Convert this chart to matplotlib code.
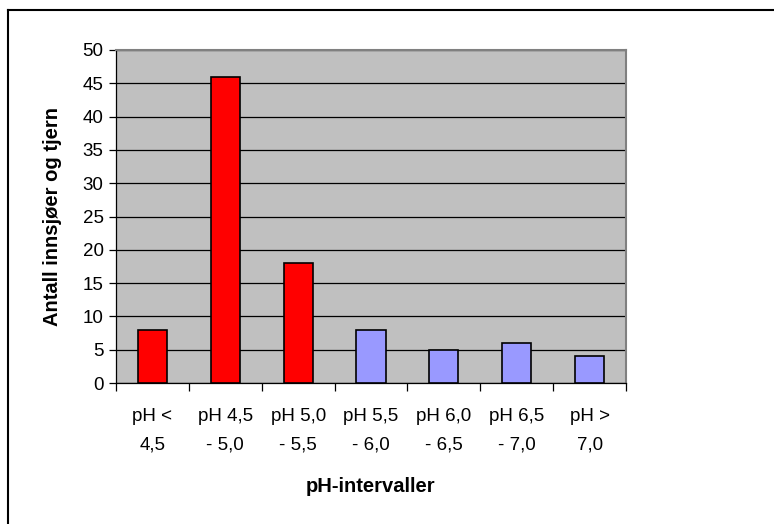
import matplotlib
matplotlib.use("Agg")
import matplotlib.pyplot as plt
from matplotlib.lines import Line2D
import numpy as np

plt.rcParams['font.family'] = ['Liberation Sans', 'DejaVu Sans']

categories = ["pH <\n4,5", "pH 4,5\n- 5,0", "pH 5,0\n- 5,5", "pH 5,5\n- 6,0",
              "pH 6,0\n- 6,5", "pH 6,5\n- 7,0", "pH >\n7,0"]
values = [8, 46, 18, 8, 5, 6, 4]
colors = ["#FF0000", "#FF0000", "#FF0000", "#9999FF", "#9999FF", "#9999FF", "#9999FF"]
yticks = [0, 5, 10, 15, 20, 25, 30, 35, 40, 45, 50]

W, H = 774, 524
fig = plt.figure(figsize=(W / 100, H / 100), dpi=100)
ax = fig.add_axes([116 / W, 1 - 383 / H, (626 - 116) / W, (383 - 50) / H])
ax.set_facecolor("#C0C0C0")

x = np.arange(len(categories))
ax.bar(x, values, width=0.4, color=colors, edgecolor="black", linewidth=1.2, zorder=3)

ax.set_xlim(-0.5, len(categories) - 0.5)
ax.set_ylim(0, 50)
ax.set_yticks(yticks)
ax.set_yticklabels([str(v) for v in yticks], fontsize=13.5)
ax.yaxis.grid(True, color="black", linewidth=0.9, zorder=1)
ax.set_axisbelow(True)

ax.set_xticks(np.arange(-0.5, len(categories), 1.0))
ax.set_xticklabels([])
ax.set_xticks(x, minor=True)
ax.set_xticklabels(categories, minor=True, fontsize=13.5, linespacing=1.9)
ax.tick_params(axis="x", which="minor", length=0, pad=18)
ax.tick_params(axis="x", which="major", length=6, width=0.9, direction="out")
ax.tick_params(axis="y", length=5, width=0.9, direction="out", pad=4)

for s in ["top", "right"]:
    ax.spines[s].set_color("#808080")
    ax.spines[s].set_linewidth(1.5)
for s in ["left", "bottom"]:
    ax.spines[s].set_color("black")
    ax.spines[s].set_linewidth(0.9)

ax.set_ylabel("Antall innsjøer og tjern", fontsize=14.5, fontweight="bold", labelpad=15)
ax.set_xlabel("pH-intervaller", fontsize=14.5, fontweight="bold", labelpad=17)

# outer frame (top and left visible)
fig.add_artist(Line2D([8 / W, 8 / W], [0, 1 - 10 / H], transform=fig.transFigure,
                      color="black", linewidth=1.5))
fig.add_artist(Line2D([8 / W, 1], [1 - 10 / H, 1 - 10 / H], transform=fig.transFigure,
                      color="black", linewidth=1.5))

fig.savefig("out.png", dpi=100)
